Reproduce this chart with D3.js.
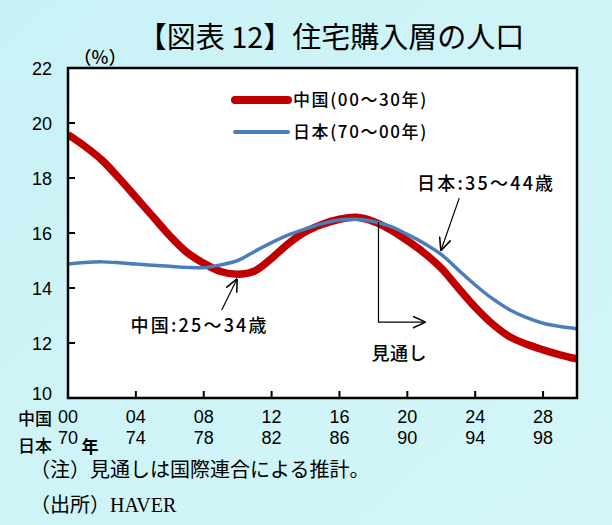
<!DOCTYPE html>
<html>
<head>
<meta charset="utf-8">
<script src="https://cdn.jsdelivr.net/npm/d3@7"></script>
<style>
  body { margin: 0; }
  svg { display: block; }
  text { font-family: "Liberation Sans", Arial, "Noto Sans CJK JP", sans-serif; fill: #000; }
  .jp { font-family: "Noto Sans CJK JP", sans-serif; font-weight: 500; }
  .note { font-family: "Liberation Serif", "Noto Sans CJK JP", serif; }
</style>
</head>
<body>
<script>
// 中国 2000-2030, 日本 1970-2000 (住宅購入層の人口比率, %)
var chinaValues = [19.58, 19.15, 18.65, 18.0, 17.3, 16.6, 15.9, 15.3, 14.9, 14.6, 14.5,
                   14.62, 15.08, 15.62, 16.05, 16.32, 16.5, 16.57, 16.42, 16.12, 15.72,
                   15.27, 14.72, 14.0, 13.3, 12.7, 12.24, 11.96, 11.75, 11.57, 11.42];
var japanValues = [14.87, 14.93, 14.95, 14.92, 14.87, 14.83, 14.79, 14.75, 14.74, 14.84, 15.0,
                   15.33, 15.65, 15.93, 16.15, 16.34, 16.47, 16.5, 16.42, 16.24, 15.95,
                   15.62, 15.22, 14.66, 14.11, 13.62, 13.22, 12.93, 12.72, 12.6, 12.52];
var tickPos = [0, 4, 8, 12, 16, 20, 24, 28];
var chinaTicks = ["00", "04", "08", "12", "16", "20", "24", "28"];
var japanTicks = ["70", "74", "78", "82", "86", "90", "94", "98"];
var yTicks = [10, 12, 14, 16, 18, 20, 22];

var W = 612, H = 525;
var margin = {top: 68, right: 35, bottom: 127, left: 68};
var width = W - margin.left - margin.right;
var height = H - margin.top - margin.bottom;

var svg = d3.select("body").append("svg")
    .attr("width", W)
    .attr("height", H);

var defs = svg.append("defs");
var grad = defs.append("linearGradient")
    .attr("id", "bg").attr("x1", 0).attr("y1", 0).attr("x2", 1).attr("y2", 1);
grad.append("stop").attr("offset", 0).attr("stop-color", "#c9f2f6");
grad.append("stop").attr("offset", 1).attr("stop-color", "#d4f6f8");

svg.append("rect").attr("width", W).attr("height", H).attr("fill", "url(#bg)");

svg.append("text")
    .attr("class", "jp")
    .attr("x", 331).attr("y", 48)
    .attr("text-anchor", "middle")
    .attr("font-size", 29).style("font-weight", 400)
    .text("【図表 12】住宅購入層の人口");

var g = svg.append("g")
    .attr("transform", "translate(" + margin.left + "," + margin.top + ")");

var x = d3.scaleLinear().domain([0, 30]).range([0, width]);
var y = d3.scaleLinear().domain([10, 22]).range([height, 0]);

g.append("rect")
    .attr("width", width).attr("height", height)
    .attr("fill", "#fff");

// ticks inside the frame
g.selectAll(".ytick").data(yTicks.slice(1, -1)).enter().append("line")
    .attr("x1", 0).attr("x2", 7)
    .attr("y1", function(d) { return y(d); }).attr("y2", function(d) { return y(d); })
    .attr("stroke", "#000").attr("stroke-width", 2);

g.selectAll(".xtick").data(tickPos.slice(1)).enter().append("line")
    .attr("x1", function(d) { return x(d); }).attr("x2", function(d) { return x(d); })
    .attr("y1", height).attr("y2", height - 7)
    .attr("stroke", "#000").attr("stroke-width", 2);

// y labels
g.selectAll(".ylab").data(yTicks).enter().append("text")
    .attr("x", -26)
    .attr("y", function(d) { return y(d) + (d === 10 ? 2 : 7); })
    .attr("text-anchor", "middle")
    .attr("font-size", 18)
    .text(function(d) { return d; });

g.append("text").attr("class", "jp")
    .attr("x", 32).attr("y", -4)
    .attr("text-anchor", "middle").attr("font-size", 18)
    .text("（%）");

// x labels, two rows
g.selectAll(".xlab1").data(tickPos).enter().append("text")
    .attr("x", function(d) { return x(d); })
    .attr("y", height + 25)
    .attr("text-anchor", "middle").attr("font-size", 18)
    .text(function(d, i) { return chinaTicks[i]; });

g.selectAll(".xlab2").data(tickPos).enter().append("text")
    .attr("x", function(d) { return x(d); })
    .attr("y", height + 46)
    .attr("text-anchor", "middle").attr("font-size", 18)
    .text(function(d, i) { return japanTicks[i]; });

g.append("text").attr("class", "jp").attr("x", -33).attr("y", height + 27)
    .attr("text-anchor", "middle").attr("font-size", 17).text("中国");
g.append("text").attr("class", "jp").attr("x", -33).attr("y", height + 54)
    .attr("text-anchor", "middle").attr("font-size", 17).text("日本");
g.append("text").attr("class", "jp").attr("x", 22).attr("y", height + 55)
    .attr("text-anchor", "middle").attr("font-size", 17).style("font-weight", "bold").text("年");

var line = d3.line()
    .x(function(d, i) { return x(i); })
    .y(function(d) { return y(d); })
    .curve(d3.curveCatmullRom);

defs.append("clipPath").attr("id", "plotclip").append("rect")
    .attr("width", width).attr("height", height);

g.append("path").datum(chinaValues)
    .attr("d", line).attr("fill", "none")
    .attr("stroke", "#c00000").attr("stroke-width", 7.5)
    .attr("clip-path", "url(#plotclip)");

g.append("path").datum(japanValues)
    .attr("d", line).attr("fill", "none")
    .attr("stroke", "#4a7ebb").attr("stroke-width", 3.5)
    .attr("clip-path", "url(#plotclip)");

g.append("rect")
    .attr("width", width).attr("height", height)
    .attr("fill", "none").attr("stroke", "#000").attr("stroke-width", 2.5);

// legend
var legend = [
  {label: "中国(00～30年)", color: "#c00000", w: 8},
  {label: "日本(70～00年)", color: "#4a7ebb", w: 4}
];
var lg = g.append("g").attr("transform", "translate(167,32)");
lg.selectAll("line").data(legend).enter().append("line")
    .attr("x1", 0).attr("x2", 53)
    .attr("y1", function(d, i) { return i * 32; }).attr("y2", function(d, i) { return i * 32; })
    .attr("stroke", function(d) { return d.color; })
    .attr("stroke-width", function(d) { return d.w; })
    .attr("stroke-linecap", "round");
lg.selectAll("text").data(legend).enter().append("text")
    .attr("class", "jp")
    .attr("x", 58).attr("y", function(d, i) { return i * 32 + 6; })
    .attr("font-size", 17).attr("letter-spacing", 1.6)
    .text(function(d) { return d.label; });

// annotations
var mk = defs.append("marker")
    .attr("id", "arr").attr("viewBox", "0 0 10 10")
    .attr("refX", 9).attr("refY", 5)
    .attr("markerWidth", 13).attr("markerHeight", 13)
    .attr("markerUnits", "userSpaceOnUse")
    .attr("orient", "auto");
mk.append("path").attr("d", "M0,0.5 L10,5 L0,9.5").attr("fill", "none")
    .attr("stroke", "#000").attr("stroke-width", 1.2);

function arrow(x1, y1, x2, y2) {
  g.append("line")
    .attr("x1", x(x1)).attr("y1", y(y1)).attr("x2", x(x2)).attr("y2", y(y2))
    .attr("stroke", "#000").attr("stroke-width", 1.2)
    .attr("marker-end", "url(#arr)");
}

g.append("text").attr("class", "jp")
    .attr("x", x(7.76)).attr("y", y(12.65) + 7)
    .attr("text-anchor", "middle").attr("font-size", 18).attr("letter-spacing", 2.2)
    .text("中国:25～34歳");
arrow(9.06, 13.2, 9.94, 14.3);

g.append("text").attr("class", "jp")
    .attr("x", x(24.65)).attr("y", y(17.82) + 7)
    .attr("text-anchor", "middle").attr("font-size", 18).attr("letter-spacing", 2.2)
    .text("日本:35～44歳");
arrow(23.06, 17.27, 22.0, 15.4);

g.append("path")
    .attr("d", "M" + x(18.3) + "," + y(16.4) + " V" + y(12.76) + " H" + x(21.0))
    .attr("fill", "none").attr("stroke", "#000").attr("stroke-width", 1.2)
    .attr("marker-end", "url(#arr)");
g.append("text").attr("class", "jp")
    .attr("x", x(18.3) - 7).attr("y", y(11.64) + 7)
    .attr("font-size", 18).attr("letter-spacing", 0.5)
    .text("見通し");

// notes
svg.append("text").attr("class", "note")
    .attr("x", 30).attr("y", 477).attr("font-size", 20)
    .text("（注）見通しは国際連合による推計。");
svg.append("text").attr("class", "note")
    .attr("x", 30).attr("y", 512).attr("font-size", 20)
    .text("（出所）HAVER");
</script>
</body>
</html>
